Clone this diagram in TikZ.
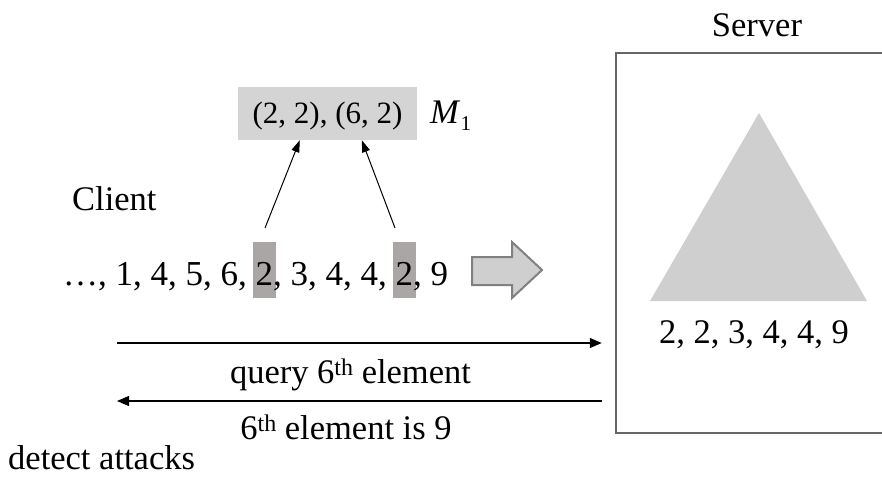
\documentclass[tikz,border=0pt]{standalone}
\usepackage{fontspec}
\setmainfont{Liberation Serif}
\usetikzlibrary{arrows.meta,calc}
\definecolor{boxgray}{RGB}{102,102,102}
\definecolor{trigray}{RGB}{208,207,208}
\definecolor{mgray}{RGB}{212,212,212}
\definecolor{hlgray}{RGB}{170,166,166}
\definecolor{fatfill}{RGB}{208,207,208}
\definecolor{fatline}{RGB}{128,128,128}
\newcommand\hlbox[1]{\setbox0\hbox{#1}\rlap{\hspace{-3pt}\color{hlgray}\rule[-13pt]{\dimexpr\wd0+6pt\relax}{56pt}}#1}
\newcommand\thsup{\raisebox{8pt}{\fontsize{24}{24}\selectfont th}}
\begin{document}
\begin{tikzpicture}[x=1pt,y=-1pt,
  font=\fontsize{34.5}{40}\selectfont,
  lbl/.style={inner sep=0pt, anchor=base},
  arr/.style={line width=1.2pt, -{Triangle[length=12pt,width=10pt]}},
  thinarr/.style={line width=1pt, -{Triangle[length=12pt,width=8pt]}}]
\useasboundingbox (0,0) rectangle (882,476);
\clip (0,0) rectangle (882,476);

% server
\node (srv) [draw=boxgray, line width=2.5pt, minimum width=284pt, minimum height=380pt, inner sep=0pt] at (758,243) {};
\fill[trigray] (759,113) -- (867,301) -- (650,301) -- cycle;
\node[lbl] (srvlbl) at (757,37) {Server};
\node[lbl] (sorted) at (754,343) {2, 2, 3, 4, 4, 9};

% client
\node[lbl, anchor=base west] (client) at (72,210) {Client};
\node[lbl, anchor=base west, font=\fontsize{35}{40}\selectfont] (list) at (63,285) {…, 1, 4, 5, 6, \hlbox{2}, 3, 4, 4, \hlbox{2}, 9};

% M1
\node (m1) [fill=mgray, minimum width=179pt, minimum height=53pt, inner sep=0pt] at (327.5,113.5) {};
\node[lbl, font=\fontsize{31}{36}\selectfont] (pairs) at (327.5,123) {(2, 2), (6, 2)};
\node[lbl, anchor=base west] (mlabel) at (430,123) {\textit{M}\raisebox{-7pt}{\fontsize{21}{21}\selectfont 1}};

\coordinate (s1) at (265,228);
\coordinate (s2) at (395,228);
\draw[thinarr] (s1) -- ($(m1.south west)+(62,0)$);
\draw[thinarr] (s2) -- ($(m1.south west)+(124,0)$);

% fat arrow
\draw[fill=fatfill, draw=fatline, line width=2pt, line join=miter]
  (472,257) -- (512,257) -- (512,242) -- (542,270) -- (512,298) -- (512,285) -- (472,285) -- cycle;

% messages
\coordinate (q1) at (117,343);
\coordinate (r1) at (117,401);
\draw[arr] (q1) -- ($(srv.west |- q1)+(-13,0)$);
\draw[arr] ($(srv.west |- r1)+(-13,0)$) -- (r1);
\node[lbl] (qlbl) at (350.5,383) {query 6\thsup{} element};
\node[lbl] (albl) at (346,439) {6\thsup{} element is 9};
\node[lbl, anchor=base west] (det) at (8,469) {detect attacks};
\end{tikzpicture}
\end{document}
